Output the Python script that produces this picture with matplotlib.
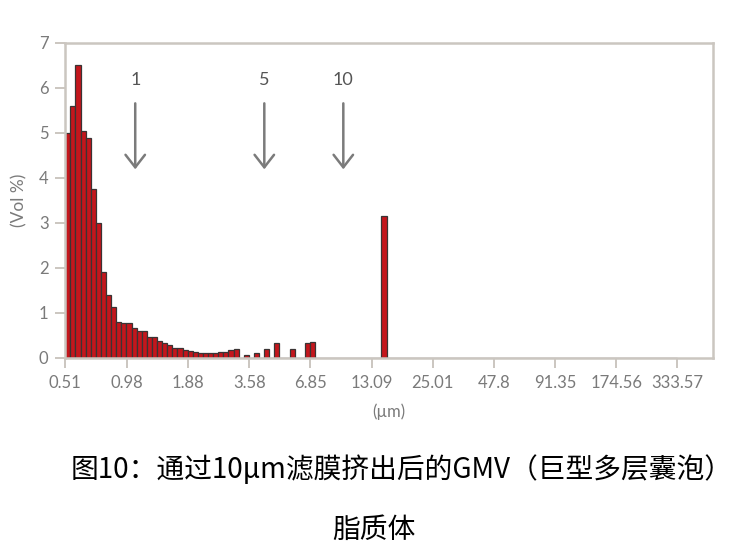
import numpy as np
import matplotlib.pyplot as plt

# particle size distribution (volume %), one value per size class
tick_labels = ["0.51", "0.98", "1.88", "3.58", "6.85", "13.09", "25.01", "47.8",
               "91.35", "174.56", "333.57"]
vol_pct = [5.0, 5.6, 6.5, 5.05, 4.88, 3.75, 3.0, 1.9, 1.39, 1.14,
           0.81, 0.78, 0.77, 0.67, 0.61, 0.60, 0.47, 0.46, 0.37, 0.33,
           0.29, 0.23, 0.22, 0.17, 0.15, 0.13, 0.12, 0.10, 0.10, 0.11,
           0.14, 0.14, 0.17, 0.20, 0.0, 0.07, 0.0, 0.11, 0.0, 0.21,
           0.0, 0.33, 0.0, 0.0, 0.19, 0.0, 0.0, 0.33, 0.35, 0.0,
           0.0, 0.0, 0.0, 0.0, 0.0, 0.0, 0.0, 0.0, 0.0, 0.0,
           0.0, 0.0, 3.15]
# filter pore sizes marked with arrows (label, position in um)
filter_labels = ["1", "5", "10"]
filter_pos = [1.07, 4.2, 9.7]

tick_vals = [float(t) for t in tick_labels]
bins_per_tick = 12
n_bins = bins_per_tick * (len(tick_vals) - 1)
edges = tick_vals[0] * (tick_vals[-1] / tick_vals[0]) ** (np.arange(n_bins + 1) / n_bins)
heights = np.zeros(n_bins)
heights[:len(vol_pct)] = vol_pct

frame = "#cbc6c0"
label_col = "#7a7a7a"

fig = plt.figure(figsize=(7.47, 5.55), dpi=100)
ax = fig.add_axes([0.0874, 0.355, 0.867, 0.5676])

ax.bar(edges[:-1], heights, width=np.diff(edges), align="edge",
       color="#c4161c", edgecolor="#3a3434", linewidth=0.9)

ax.set_xscale("log")
ax.set_xlim(tick_vals[0], tick_vals[0] * (tick_vals[-1] / tick_vals[0]) ** (127 / n_bins))
ax.set_ylim(0, 7)
ax.set_xticks(tick_vals)
ax.set_xticklabels(tick_labels)
ax.xaxis.set_minor_locator(plt.NullLocator())
ax.set_yticks(range(8))

for s in ax.spines.values():
    s.set_color(frame)
    s.set_linewidth(1.8)
ax.tick_params(axis="both", length=7, width=1.4, color=frame, labelcolor=label_col,
               labelsize=12, pad=5)
for lab in ax.get_xticklabels() + ax.get_yticklabels():
    lab.set_family("Lato")

ax.set_xlabel("(µm)", family="Lato", fontsize=12, color=label_col, labelpad=9)
ax.set_ylabel("(Vol %)", family="Lato", fontsize=12.5, color=label_col, labelpad=8)

for lab, x in zip(filter_labels, filter_pos):
    ax.annotate("", xy=(x, 4.13), xytext=(x, 5.72),
                arrowprops=dict(arrowstyle="->,head_length=0.9,head_width=0.7",
                                color="#7b7b7b", lw=1.8))
    ax.text(x, 6.18, lab, ha="center", va="center", family="Lato",
            fontsize=13, color="#555555")

cap_font = ["Noto Sans CJK SC", "DejaVu Sans"]
fig.text(0.538, 0.153, "图10：通过10μm滤膜挤出后的GMV（巨型多层囊泡）",
         ha="center", va="center", family=cap_font, fontsize=20, color="black")
fig.text(0.5, 0.045, "脂质体", ha="center", va="center", family=cap_font,
         fontsize=20, color="black")

fig.savefig("out.png", dpi=100)
